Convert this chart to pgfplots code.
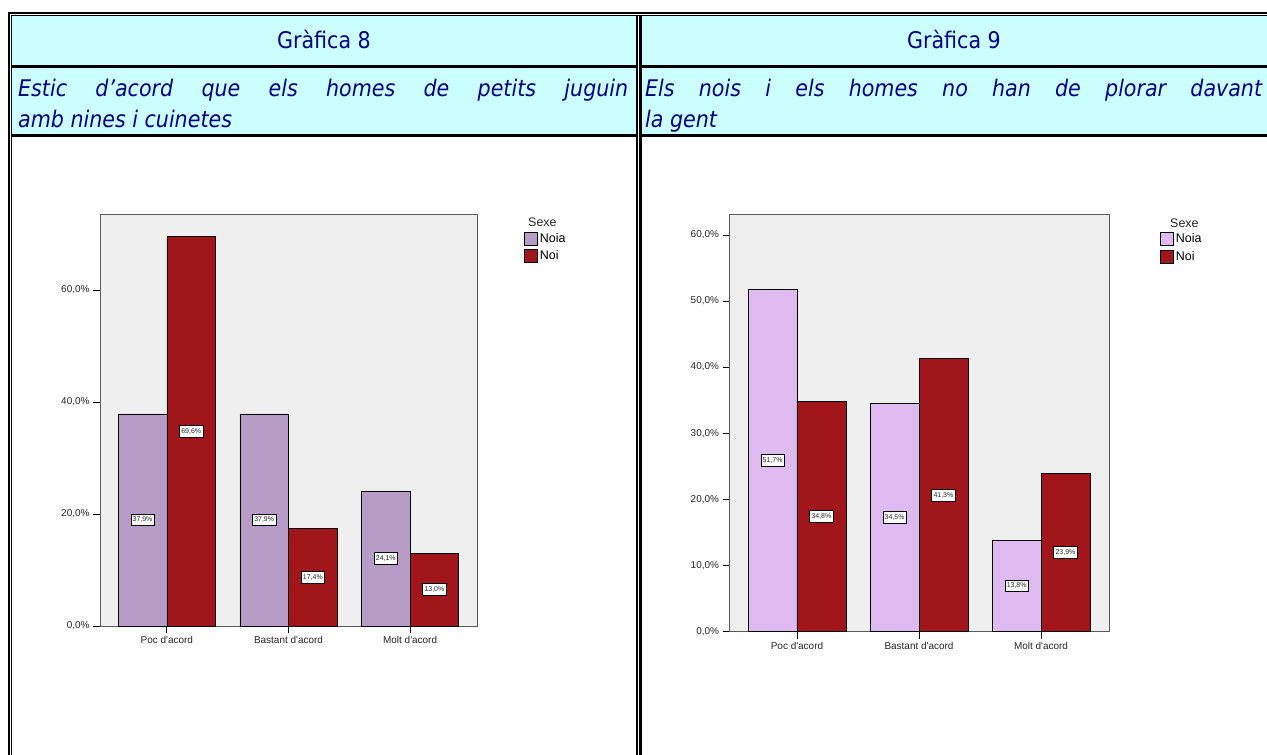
\documentclass[border=0pt]{standalone}
\usepackage{fontspec}
\setmainfont{Liberation Sans}
\IfFontExistsTF{DejaVu Sans Condensed}{\newfontfamily\hdr{DejaVu Sans Condensed}}{\newfontfamily\hdr[Scale=0.9]{DejaVu Sans}}
\usepackage{pgfplots}
\pgfplotsset{compat=1.18}
\definecolor{navyt}{RGB}{0,0,128}
\definecolor{cyanbg}{RGB}{204,255,255}
\definecolor{noiaA}{RGB}{184,156,200}
\definecolor{noiaB}{RGB}{222,186,240}
\definecolor{noired}{RGB}{160,22,26}
\definecolor{plotbg}{RGB}{239,239,239}
\definecolor{framegray}{RGB}{90,90,90}
\pgfkeys{/pgf/number format/assume math mode=true}
\pgfplotsset{
  spss/.style={
    ybar, scale only axis, clip=false,
    bar width=0.4,
    ymin=0, xmin=-0.55, xmax=2.55,
    xtick={0,1,2},
    xticklabels={Poc d\textquotesingle acord, Bastant d\textquotesingle acord, Molt d\textquotesingle acord},
    axis background/.style={fill=plotbg},
    axis line style={draw=framegray, line width=0.8bp},
    tick align=outside, major tick length=7bp,
    tick style={black, line width=0.8bp},
    xtick pos=bottom, ytick pos=left,
    ticklabel style={font=\fontsize{10}{12}\selectfont, text=black!85},
    yticklabel style={/pgf/number format/.cd, fixed, fixed zerofill, precision=1, use comma},
    yticklabel={\pgfmathprintnumber{\tick}\%},
    nodes near coords={\pgfmathprintnumber[fixed, fixed zerofill, precision=1, use comma]{\pgfplotspointmeta}\%},
    visualization depends on=y \as \rawy,
    every node near coord/.append style={anchor=center, shift={(axis direction cs:0,-\rawy/2)},
      font=\fontsize{7}{8}\selectfont, fill=white, draw=black, line width=0.7bp,
      inner xsep=1.8bp, inner ysep=3bp, text=black!85},
    legend style={at={(rel axis cs:1,1)}, anchor=north west, xshift=47bp, yshift=-17bp,
      draw=none, fill=none, inner sep=0pt, row sep=3bp,
      font=\fontsize{12.5}{13}\selectfont},
    legend cell align=left,
    legend image code/.code={\draw[#1, line width=0.7bp] (0bp,-6.5bp) rectangle (13bp,6.5bp);},
  }
}
\begin{document}
\begin{tikzpicture}
\useasboundingbox (0,0) rectangle (1267bp,-755bp);
\begin{scope}[x=1bp,y=-1bp]
\fill[white] (0,0) rectangle (1267,755);
\fill[cyanbg] (12,16) rectangle (636.5,135);
\fill[cyanbg] (641.5,16) rectangle (1267,135);
% outer border
\draw[line width=2.4bp] (7.8,13) -- (1267,13);
\draw[line width=1.2bp] (11,15.6) -- (1267,15.6);
\draw[line width=2.4bp] (9,11.8) -- (9,755);
\draw[line width=1.2bp] (11.6,15) -- (11.6,755);
% row dividers
\draw[line width=3bp] (11,66.5) -- (637,66.5);
\draw[line width=3bp] (640,66.5) -- (1267,66.5);
\draw[line width=3bp] (11,135.5) -- (637,135.5);
\draw[line width=3bp] (640,135.5) -- (1267,135.5);
% middle double line
\draw[line width=1.7bp] (636.8,15) -- (636.8,755);
\draw[line width=2.4bp] (640.5,15) -- (640.5,755);
% header texts
\node[font=\hdr\fontsize{23}{28}\selectfont, text=navyt, anchor=base, inner sep=0] at (324,48) {Gràfica 8};
\node[font=\hdr\fontsize{23}{28}\selectfont, text=navyt, anchor=base, inner sep=0] at (954,48) {Gràfica 9};
\node[font=\hdr\itshape\fontsize{23}{28}\selectfont, text=navyt, anchor=base west, inner sep=0] at (18,96)
  {\makebox[610bp][s]{Estic d’acord que els homes de petits juguin}};
\node[font=\hdr\itshape\fontsize{23}{28}\selectfont, text=navyt, anchor=base west, inner sep=0] at (18,127)
  {amb nines i cuinetes};
\node[font=\hdr\itshape\fontsize{23}{28}\selectfont, text=navyt, anchor=base west, inner sep=0] at (645,96)
  {\makebox[617bp][s]{Els nois i els homes no han de plorar davant}};
\node[font=\hdr\itshape\fontsize{23}{28}\selectfont, text=navyt, anchor=base west, inner sep=0] at (645,127)
  {la gent};
\end{scope}

% ---- Gràfica 8 ----
\begin{axis}[spss, at={(100bp,-626bp)}, anchor=south west, width=377bp, height=412bp,
  ymax=73.6, ytick={0,20,40,60}]
\addplot[fill=noiaA, draw=black, line width=0.6bp, bar shift=-0.2] coordinates {(0,37.9) (1,37.9) (2,24.1)};
\addplot[fill=noired, draw=black, line width=0.6bp, bar shift=0.2] coordinates {(0,69.6) (1,17.4) (2,13.0)};
\legend{Noia, Noi}
\node[font=\fontsize{12.5}{13}\selectfont, anchor=base west, xshift=51bp, yshift=-13bp, inner sep=0, text=black!85] at (rel axis cs:1,1) {Sexe};
\end{axis}

% ---- Gràfica 9 ----
\begin{axis}[spss, at={(729.5bp,-631.5bp)}, anchor=south west, width=379.5bp, height=416.8bp,
  ymax=63.06, ytick={0,10,20,30,40,50,60}, xmin=-0.553, xmax=2.557,
  legend style={xshift=4bp}]
\addplot[fill=noiaB, draw=black, line width=0.6bp, bar shift=-0.2] coordinates {(0,51.7) (1,34.5) (2,13.8)};
\addplot[fill=noired, draw=black, line width=0.6bp, bar shift=0.2] coordinates {(0,34.8) (1,41.3) (2,23.9)};
\legend{Noia, Noi}
\node[font=\fontsize{12.5}{13}\selectfont, anchor=base west, xshift=61bp, yshift=-13bp, inner sep=0, text=black!85] at (rel axis cs:1,1) {Sexe};
\end{axis}
\end{tikzpicture}
\end{document}
